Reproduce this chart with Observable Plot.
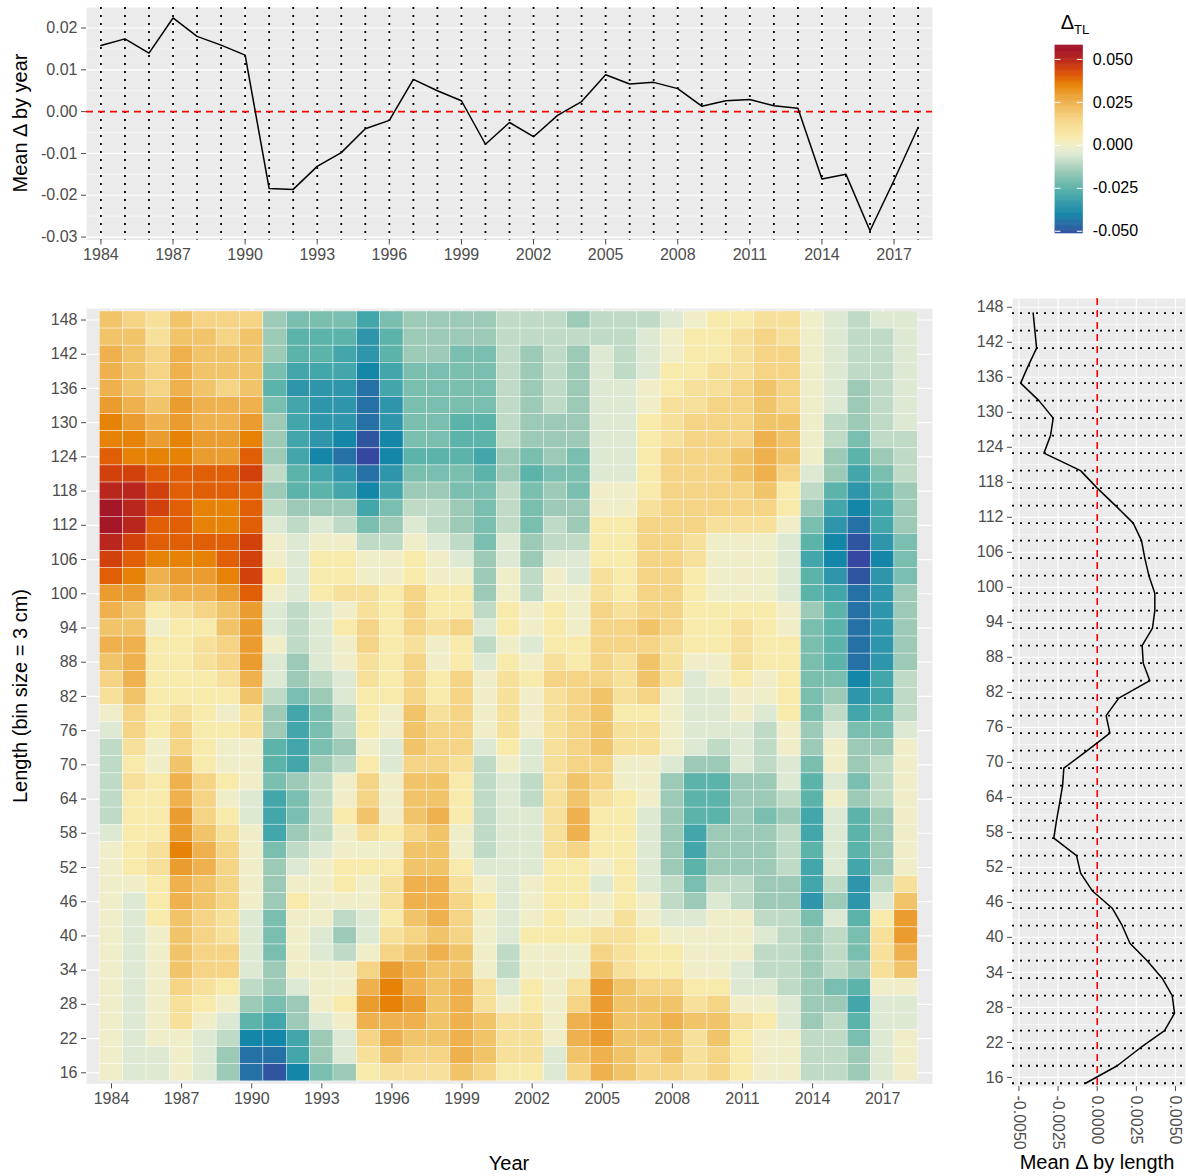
<!DOCTYPE html>
<html><head><meta charset="utf-8">
<script src="https://cdn.jsdelivr.net/npm/d3@7"></script>
<script src="https://cdn.jsdelivr.net/npm/@observablehq/plot@0.6"></script>
<style>
html,body{margin:0;padding:0;background:#fff;overflow:hidden;}
#wrap{position:relative;width:1188px;height:1176px;font-family:"Liberation Sans",Arial,Helvetica,sans-serif;}
#wrap svg{position:absolute;left:0;top:0;}
.t{position:absolute;color:#000;font-size:20px;white-space:nowrap;line-height:1;}
.rot{transform:translate(-50%,-50%) rotate(-90deg);}
.ctr{transform:translate(-50%,-50%);}
</style></head><body><div id="wrap"></div>
<script>
// ---------- data ----------
const years = [1984,1985,1986,1987,1988,1989,1990,1991,1992,1993,1994,1995,1996,1997,1998,1999,2000,2001,2002,2003,2004,2005,2006,2007,2008,2009,2010,2011,2012,2013,2014,2015,2016,2017,2018];
const tickYears = [1984,1987,1990,1993,1996,1999,2002,2005,2008,2011,2014,2017];
// mean delta by year (top panel)
const yearMean = [0.0158,0.0174,0.0140,0.0224,0.0180,0.0159,0.0135,-0.0184,-0.0186,-0.0131,-0.0098,-0.0041,-0.0021,0.0077,0.0050,0.0026,-0.0078,-0.0026,-0.0060,-0.0009,0.0024,0.0088,0.0066,0.0070,0.0055,0.0013,0.0026,0.0029,0.0014,0.0008,-0.0161,-0.0150,-0.0285,-0.0164,-0.0038];
// length bins of the heat map (top row first)
const lengths = [148,145,142,139,136,133,130,127,124,121,118,115,112,109,106,103,100,97,94,91,88,85,82,79,76,73,70,67,64,61,58,55,52,49,46,43,40,37,34,31,28,25,22,19,16];
const lengthTicks = [16,22,28,34,40,46,52,58,64,70,76,82,88,94,100,106,112,118,124,130,136,142,148];
const lengthMinor = [19,25,31,37,43,49,55,61,67,73,79,85,91,97,103,109,115,121,127,133,139,145];
// mean delta by length (right panel), lengths top to bottom
const lenMid = [147,144,141,138,135,132,129,126,123,120,117,114,111,108,105,102,99,96,93,90,87,84,81,78,75,72,69,66,63,60,57,54,51,48,45,42,39,36,33,30,27,24,21,18,15];
const lengthMean = [-0.00409,-0.00398,-0.00387,-0.00440,-0.00489,-0.00372,-0.00281,-0.00298,-0.00340,-0.00106,0.00000,0.00117,0.00230,0.00283,0.00304,0.00330,0.00368,0.00368,0.00353,0.00287,0.00294,0.00336,0.00138,0.00057,0.00081,-0.00064,-0.00213,-0.00221,-0.00240,-0.00260,-0.00277,-0.00132,-0.00106,-0.00032,0.00096,0.00160,0.00209,0.00319,0.00415,0.00479,0.00494,0.00430,0.00272,0.00128,-0.00074];
// heat map values: one string per length row (148 at top), one letter per year 1984..2018
// letter code: "@ABCDEFGHIJKLMNOPQRSTUV" -> -0.055 .. +0.055 in steps of 0.005 (K = 0)
const heatCode = "@ABCDEFGHIJKLMNOPQRSTUV";
const heatRows = [
"ONMONNNHGGGE"+"GHHHHIIIHIII"+"JKLLMMKJIJJ",
"OOMOONOHFFFD"+"FHHHHIIIIIIJ"+"KLLMNMKJIIJ",
"PONPOOOHFFED"+"FHHGGIHIHJIJ"+"KLLMNNKJIIJ",
"PONPOOOGEEEC"+"EGGGGIHIHJIJ"+"LLMMNNKJIIJ",
"PONPONOFDDDB"+"EGGGGIHIHJJK"+"LMMNONKJHIJ",
"QPOQPPPGEDDB"+"DGGGGIHIHJJK"+"MMNNONKJHIJ",
"RQPQPPQHEDDB"+"DGGFFIHHHJJL"+"MNNNOOKIHIJ",
"RRQRQQRHEDCA"+"CGGFFIHHHJJL"+"MNNNPOKIGII",
"SRRRQQSHECB@"+"CFFFEHGHGJJL"+"NNNOPOKHFHI",
"TTSSSSTIFEDB"+"DGGGFHFGGJJL"+"NNNOPNJHEGI",
"UUTSSSSHFFEC"+"EHHGGIGHGKKL"+"NNNNOLIFDFH",
"VUTSRRSIHHHE"+"GIIHGIGHHKKM"+"NNNNNLHECEH",
"VUSSRRSJIJIG"+"HJIHGIGIHLLN"+"NNMMMKGDBEH",
"UTSSSSTKJKKI"+"IKJIGJHIILLN"+"NMKKKJFCADG",
"TSRRRSTKJLLK"+"KLKJHJHJJLLN"+"NMKKKJEC@CG",
"SRPQQRTLJLLK"+"KLKKHKIKJMLN"+"NLKKKJFDADG",
"QQOPPQSKJLMM"+"LNLLHKIKKMLN"+"NLKKKJFEBDH",
"POLMNOQJIJKM"+"LNLLILKLKNMN"+"NLLLLKHFBDH",
"OOKLLOQJIJLN"+"LNMNJLKLKNNO"+"NLLMLKGFBDH",
"PPLLMNQKIJKN"+"LMKLIKJLLNNN"+"MLLMLLGFBDH",
"OPLLMNQJHJKM"+"LNKLJLKMLNMO"+"MKKMLLGFBDH",
"NPLLLMPJHIJM"+"LNLNKMLNNNMO"+"MJKLKLGGCEI",
"MOLLLLOIGHJL"+"LNLNKMKMNOMN"+"KJJKKLGHDEI",
"KNLMLKMHEGIL"+"KOMNKMKMNOLL"+"KJJKJLGIEFI",
"JNLNLLMHEGIL"+"KONNKMKMNOMM"+"KJJJIKHJGGJ",
"IMKNLKKFEGHK"+"JONNJLJMNOMM"+"KJIJIKHKHHK",
"ILKOLKKFEHIL"+"JNNMIKJMNNKK"+"JHHJIJGKHIK",
"IMLPNLKGHIKN"+"KOOLIJIMONKK"+"HFFHHJFJGIK",
"ILLPNKJEGIKN"+"KOOLIJIMOMLK"+"HFFHHIFKHIK",
"ILLQNLJEGILO"+"KOPLIJJMPLLJ"+"HFFHGHEJFHK",
"JLLQOMKEHIKM"+"LNOKIJJMPLLJ"+"HEHHHIEJFHK",
"KLMRPNKGIJKK"+"KOOKIJJMNLLJ"+"HEHHHIFJFHK",
"KLMQPNKHJKLL"+"LOOLJJJLLKLJ"+"HFHHHIEJEHK",
"KKLPONKHKKLK"+"MPPMKJKLLJLJ"+"IGIIHHEIDIM",
"KJLPONKHLKKK"+"MPPNLJKLLKLK"+"IHJIHHDHDJO",
"KJLONMJGKKIJ"+"LOPNKJKLKKMK"+"JJKKIIGJFLQ",
"KJKONMJGKJHJ"+"MNONKJLLLMML"+"KKKKJIHIGMQ",
"KJKONNJGKJIK"+"NOPOKIKKKNML"+"LKKKIIHIGMP",
"KJKONNJHKKKN"+"QPOOKIKKKOML"+"LKKJIIHIHMO",
"KJKNMLIHJKKP"+"RPOPMJLKMQON"+"NLLJJIHGFKK",
"KJKMLKHGHKLQ"+"RQOPMKLKNQOO"+"OMNKKJHHEJJ",
"KJKMKJFEHJKP"+"PPOPOMMKPQOO"+"POOMLJHIFJJ",
"KJKKJICCEHJN"+"POOPOMMKPQOO"+"OMOLKKIIGJK",
"KJJKJHBBEHJM"+"ONNPOMMJOPON"+"OMNLKKIIHJK",
"KJJKJHBACGHL"+"MMMONLLJNPON"+"NMNLKKIIHJK"
];
// colour bar ticks
const legendTicks = [-0.05,-0.025,0,0.025,0.05];
const ySeries = [-0.03,-0.02,-0.01,0,0.01,0.02];
const yMinor = [-0.025,-0.015,-0.005,0.005,0.015];
const xLen = [-0.005,-0.0025,0,0.0025,0.005];
const xLenMinor = [-0.00375,-0.00125,0.00125,0.00375];

// colour ramp (diverging, blue-teal-cream-orange-red)
const rampStops = [-0.055,-0.05,-0.045,-0.04,-0.035,-0.03,-0.025,-0.02,-0.015,-0.01,-0.005,0,0.005,0.01,0.015,0.02,0.025,0.03,0.035,0.04,0.045,0.05,0.055,0.06];
const rampColors = ["#3547a0","#2f55a0","#2570a5","#1486a8","#2e95aa","#42a6aa","#5cb3a9","#7abeaf","#9ccab6","#bfdbc6","#dde9d3","#f0eec8","#f7eaab","#f7e09a","#f5d486","#f2c46a","#efb04e","#eb9c2e","#e68205","#e05e05","#d2400c","#b8261e","#a51626","#9c0f2a"];
const LO = -0.0513, HI = 0.0581;

// ---------- build ----------
const ramp = d3.scaleLinear().domain(rampStops).range(rampColors).interpolate(d3.interpolateRgb).clamp(true);
const colorScale = {type: "linear", domain: [LO, HI], interpolate: t => ramp(LO + t * (HI - LO))};

const cells = [];
heatRows.forEach((row, r) => {
  for (let c = 0; c < years.length; c++) {
    cells.push({year: years[c], len: lengths[r], value: (heatCode.indexOf(row[c]) - 11) * 0.005});
  }
});
const yearTable = years.map((y, i) => ({year: y, mean: yearMean[i]}));
const lenTable = lenMid.map((l, i) => ({len: l, mean: lengthMean[i]}));
const legendStep = 0.0005;
const legendSteps = d3.range(LO, HI, legendStep);

const FONT = '"Liberation Sans", Arial, Helvetica, sans-serif';
const W = 1188, H = 1176;
const base = {width: W, height: H, style: {background: "none", fontFamily: FONT, fontSize: "16px", color: "#4d4d4d", overflow: "visible"}};
const dotted = {stroke: "black", strokeWidth: 1.8, strokeDasharray: "2,6"};
const redDash = {stroke: "#ff0000", strokeWidth: 1.6, strokeDasharray: "7,5"};
const gridMaj = {stroke: "white", strokeWidth: 1.2};
const gridMin = {stroke: "white", strokeWidth: 0.6};

// top panel: mean by year
const topPlot = Plot.plot({
  ...base,
  marginLeft: 86, marginRight: W - 932, marginTop: 7, marginBottom: H - 239.5,
  x: {type: "linear", domain: [1983.4, 2018.6]},
  y: {type: "linear", domain: [-0.0307, 0.0249]},
  marks: [
    Plot.frame({fill: "#ebebeb", stroke: "none"}),
    Plot.ruleY(yMinor, gridMin),
    Plot.ruleY(ySeries, gridMaj),
    Plot.ruleX(tickYears, gridMaj),
    Plot.ruleX(years, dotted),
    Plot.ruleY([0], redDash),
    Plot.line(yearTable, {x: "year", y: "mean", stroke: "black", strokeWidth: 1.5}),
    Plot.axisX({ticks: tickYears, tickFormat: d => String(d), tickSize: 5, tickPadding: 4, label: null, fontSize: 16}),
    Plot.axisY({ticks: ySeries, tickFormat: d => d.toFixed(2), tickSize: 5, tickPadding: 4, label: null, fontSize: 16})
  ]
});

// heat map
const heatPlot = Plot.plot({
  ...base,
  marginLeft: 86, marginRight: W - 932, marginTop: 308, marginBottom: H - 1083.3,
  x: {type: "linear", domain: [1982.93, 2019.13]},
  y: {type: "linear", domain: [14.07, 150.02]},
  color: colorScale,
  marks: [
    Plot.frame({fill: "#ebebeb", stroke: "none"}),
    Plot.ruleX(tickYears, gridMaj),
    Plot.ruleY(lengthTicks, gridMaj),
    Plot.rect(cells, {x1: d => d.year - 0.5, x2: d => d.year + 0.5, y1: d => d.len - 1.5, y2: d => d.len + 1.5, fill: "value", stroke: "white", strokeWidth: 0.5, strokeOpacity: 0.8}),
    Plot.axisX({ticks: tickYears, tickFormat: d => String(d), tickSize: 5, tickPadding: 4, label: null, fontSize: 16}),
    Plot.axisY({ticks: lengthTicks, tickFormat: d => String(d), tickSize: 5, tickPadding: 4, label: null, fontSize: 16})
  ]
});

// right panel: mean by length
const sidePlot = Plot.plot({
  ...base,
  marginLeft: 1012, marginRight: W - 1185, marginTop: 298, marginBottom: H - 1086,
  x: {type: "linear", domain: [-0.005409, 0.005639]},
  y: {type: "linear", domain: [14.44, 149.5]},
  marks: [
    Plot.frame({fill: "#ebebeb", stroke: "none"}),
    Plot.ruleX(xLenMinor, gridMin),
    Plot.ruleX(xLen, gridMaj),
    Plot.ruleY(lengthMinor, gridMin),
    Plot.ruleY(lengthTicks, gridMaj),
    Plot.ruleY(lenMid, dotted),
    Plot.ruleX([0], redDash),
    Plot.line(lenTable, {x: "mean", y: "len", stroke: "black", strokeWidth: 1.5}),
    Plot.axisX({ticks: xLen, tickFormat: d => d.toFixed(4), tickRotate: 90, tickSize: 5, tickPadding: 4, label: null, fontSize: 16}),
    Plot.axisY({ticks: lengthTicks, tickFormat: d => String(d), tickSize: 5, tickPadding: 4, label: null, fontSize: 16})
  ]
});

// colour bar legend
const legendPlot = Plot.plot({
  ...base,
  marginLeft: 1055, marginRight: W - 1082.3, marginTop: 45, marginBottom: H - 233,
  x: {type: "linear", domain: [0, 1], axis: null},
  y: {type: "linear", domain: [LO, HI], axis: null},
  color: colorScale,
  marks: [
    Plot.rect(legendSteps, {x1: 0, x2: 1, y1: d => d, y2: d => Math.min(HI, d + legendStep), fill: d => d + legendStep / 2, stroke: d => d + legendStep / 2, strokeWidth: 0.6}),
    Plot.ruleY(legendTicks, {x1: 0, x2: 0.2, stroke: "white", strokeWidth: 1}),
    Plot.ruleY(legendTicks, {x1: 0.8, x2: 1, stroke: "white", strokeWidth: 1}),
    Plot.text(legendTicks, {x: 1, y: d => d, text: d => d.toFixed(3), dx: 10, textAnchor: "start", fontSize: 16, fill: "black"})
  ]
});

const wrap = document.getElementById("wrap");
[topPlot, heatPlot, sidePlot, legendPlot].forEach(p => wrap.appendChild(p));

function addText(txt, x, y, cls, html) {
  const d = document.createElement("div");
  d.className = "t " + cls;
  d.style.left = x + "px";
  d.style.top = y + "px";
  if (html) d.innerHTML = txt; else d.textContent = txt;
  wrap.appendChild(d);
}
addText("Mean Δ by year", 20, 123, "rot");
addText("Length (bin size = 3 cm)", 20, 696, "rot");
addText("Year", 509, 1163, "ctr");
addText("Mean Δ by length", 1097, 1162, "ctr");
addText('Δ<sub style="font-size:13px;vertical-align:-5px">TL</sub>', 1075, 24, "ctr", true);
</script>
</body></html>
